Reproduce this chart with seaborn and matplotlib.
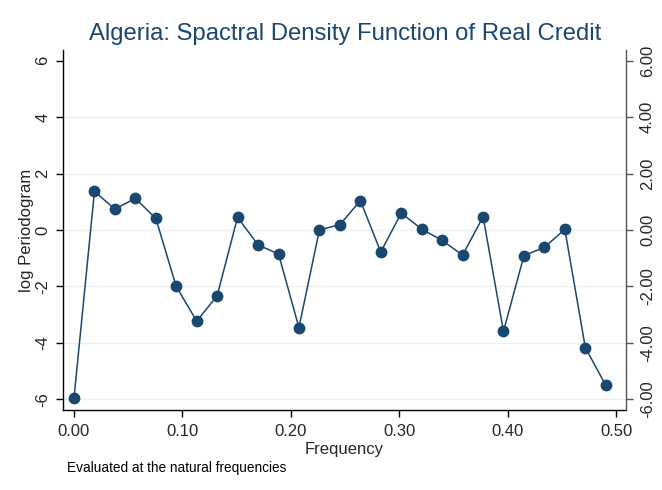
import matplotlib
matplotlib.use("Agg")
import matplotlib.pyplot as plt
import seaborn as sns
import pandas as pd

frequency = [0.0000, 0.0189, 0.0377, 0.0566, 0.0755, 0.0943, 0.1132, 0.1321, 0.1509,
             0.1698, 0.1887, 0.2075, 0.2264, 0.2453, 0.2642, 0.2830, 0.3019, 0.3208,
             0.3396, 0.3585, 0.3774, 0.3962, 0.4151, 0.4340, 0.4528, 0.4717, 0.4906]
log_periodogram = [-5.97, 1.37, 0.74, 1.12, 0.41, -2.00, -3.23, -2.33, 0.45,
                   -0.53, -0.85, -3.46, 0.00, 0.19, 1.04, -0.78, 0.60, 0.03,
                   -0.37, -0.89, 0.47, -3.59, -0.91, -0.61, 0.02, -4.17, -5.51]
x_ticks = [0.0, 0.1, 0.2, 0.3, 0.4, 0.5]
y_ticks = [-6, -4, -2, 0, 2, 4, 6]

sns.set_theme(style="white")
plt.rcParams['font.family'] = ['Liberation Sans', 'DejaVu Sans']

navy = "#1a476f"
df = pd.DataFrame({"Frequency": frequency, "log Periodogram": log_periodogram})

fig = plt.figure(figsize=(6.62, 4.9), dpi=100)
ax = fig.add_axes([0.0952, 0.1633, 0.8504, 0.7347])

for yv in y_ticks[:-1]:
    ax.axhline(yv, color="#eaf2f3", linewidth=1.0, zorder=0)

sns.lineplot(data=df, x="Frequency", y="log Periodogram", ax=ax, color=navy,
             linewidth=1.1, marker="o", markersize=8.5, markeredgewidth=0)

ax.set_xlim(-0.0101, 0.5092)
ax.set_ylim(-6.38, 6.38)
ax.set_xticks(x_ticks)
ax.set_xticklabels([f"{t:.2f}" for t in x_ticks], fontsize=12)
ax.set_yticks(y_ticks)
ax.set_yticklabels([str(t) for t in y_ticks], fontsize=12, rotation=90, va="center")
ax.set_xlabel("Frequency", fontsize=12, labelpad=2)
ax.set_ylabel("log Periodogram", fontsize=12, labelpad=1)
ax.tick_params(axis="x", direction="out", length=5, width=1,
               color="black", bottom=True, pad=5)
ax.tick_params(axis="y", direction="out", length=5, width=1,
               color="black", left=True, pad=4)
for s in ["top", "right"]:
    ax.spines[s].set_visible(False)
for s in ["left", "bottom"]:
    ax.spines[s].set_color("black")
    ax.spines[s].set_linewidth(1.0)

ax2 = ax.twinx()
ax2.set_ylim(-6.38, 6.38)
ax2.set_yticks(y_ticks)
ax2.set_yticklabels([f"{t:.2f}" for t in y_ticks], fontsize=12, rotation=90, va="center")
ax2.tick_params(axis="y", direction="out", length=5, width=1, color="#555555", right=True, pad=5)
for s in ["top", "left", "bottom"]:
    ax2.spines[s].set_visible(False)
ax2.spines["right"].set_color("#555555")
ax2.spines["right"].set_linewidth(1.0)
ax2.grid(False)

fig.text(0.521, 0.930, "Algeria: Spactral Density Function of Real Credit",
         ha="center", va="center", fontsize=17.2, color=navy)
fig.text(0.101, 0.045, "Evaluated at the natural frequencies", ha="left",
         va="center", fontsize=9.85, color="black")

fig.savefig("out.png", dpi=100)
